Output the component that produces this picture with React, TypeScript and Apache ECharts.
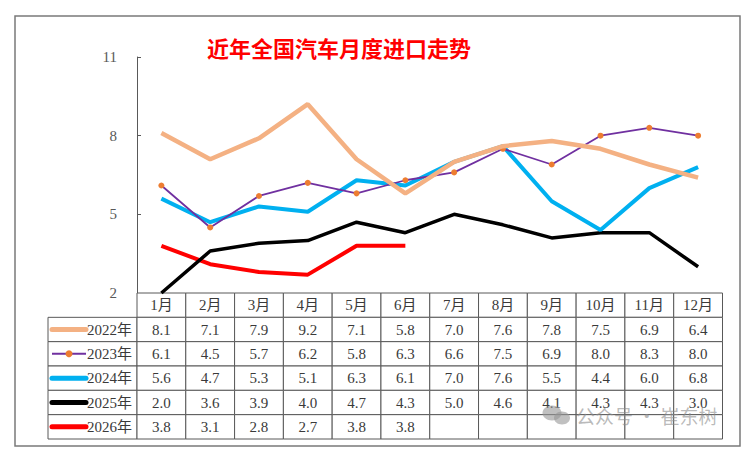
import React, { useEffect, useRef } from "react";
import * as echarts from "echarts";

const months = ["1月", "2月", "3月", "4月", "5月", "6月", "7月", "8月", "9月", "10月", "11月", "12月"];
const yearNames = ["2022年", "2023年", "2024年", "2025年", "2026年"];
const v2022 = [8.1, 7.1, 7.9, 9.2, 7.1, 5.8, 7.0, 7.6, 7.8, 7.5, 6.9, 6.4];
const v2023 = [6.1, 4.5, 5.7, 6.2, 5.8, 6.3, 6.6, 7.5, 6.9, 8.0, 8.3, 8.0];
const v2024 = [5.6, 4.7, 5.3, 5.1, 6.3, 6.1, 7.0, 7.6, 5.5, 4.4, 6.0, 6.8];
const v2025 = [2.0, 3.6, 3.9, 4.0, 4.7, 4.3, 5.0, 4.6, 4.1, 4.3, 4.3, 3.0];
const v2026 = [3.8, 3.1, 2.8, 2.7, 3.8, 3.8];
const yMin = 2;
const yMax = 11;
const yStep = 3;
const titleText = "近年全国汽车月度进口走势";
const watermark = "公众号 · 崔东树";

const allValues = [v2022, v2023, v2024, v2025, v2026];
const lineColors = ["#F4B183", "#7030A0", "#00B0F0", "#000000", "#FF0000"];
const lineWidths = [4.5, 1.8, 4, 3.5, 4];
const markerColor = "#ED7D31";

const SERIF = '"Liberation Serif", "Times New Roman", "Noto Sans CJK SC", serif';
const LEGEND_W = 89;
const BORDER = "#595959";
const TXT = "#3a3a3a";

type Cell = { kind: "head" | "val" | "legend"; text: string; s: number };
const cells: Cell[] = [];
const cellData: number[][] = [];
months.forEach((m, c) => {
  cells.push({ kind: "head", text: m, s: -1 });
  cellData.push([c, 0]);
});
allValues.forEach((vals, r) => {
  cells.push({ kind: "legend", text: yearNames[r], s: r });
  cellData.push([0, r + 1]);
  months.forEach((_, c) => {
    const v = vals[c];
    cells.push({ kind: "val", text: v === undefined ? "" : v.toFixed(1), s: r });
    cellData.push([c, r + 1]);
  });
});

export default function App() {
  const ref = useRef<HTMLDivElement>(null);
  useEffect(() => {
    if (!ref.current) return;
    const chart = echarts.init(ref.current, null, { renderer: "svg" });
    const lineSeries = allValues.map((vals, i) => ({
      type: "line",
      name: yearNames[i],
      xAxisIndex: 0,
      yAxisIndex: 0,
      data: vals,
      showSymbol: i === 1,
      symbol: "circle",
      symbolSize: 6,
      itemStyle: { color: i === 1 ? markerColor : lineColors[i] },
      lineStyle: { color: lineColors[i], width: lineWidths[i] },
      z: 10 - i,
      silent: true,
    }));
    const option: any = {
      animation: false,
      backgroundColor: "#ffffff",
      grid: [
        { left: 137, top: 57, width: 585.5, height: 236 },
        { left: 137, top: 293, width: 585.5, height: 146 },
      ],
      xAxis: [
        { type: "category", gridIndex: 0, data: months, boundaryGap: true, show: false },
        { type: "category", gridIndex: 1, data: months, boundaryGap: true, show: false },
      ],
      yAxis: [
        {
          type: "value",
          gridIndex: 0,
          min: yMin,
          max: yMax,
          interval: yStep,
          axisLine: { show: true, lineStyle: { color: BORDER, width: 1 } },
          axisTick: { show: true, inside: true, length: 4, lineStyle: { color: BORDER } },
          splitLine: { show: false },
          axisLabel: { fontFamily: SERIF, fontSize: 15, color: "#595959", margin: 20 },
        },
        {
          type: "category",
          gridIndex: 1,
          inverse: true,
          data: ["", ...yearNames],
          show: false,
        },
      ],
      series: [
        ...lineSeries,
        {
          type: "custom",
          xAxisIndex: 1,
          yAxisIndex: 1,
          data: cellData,
          silent: true,
          z: 2,
          renderItem: (params: any, api: any) => {
            const cell = cells[params.dataIndex];
            const pt = api.coord([api.value(0), api.value(1)]);
            const sz = api.size([1, 1]);
            let w = sz[0];
            const h = sz[1];
            let x = pt[0] - w / 2;
            const y = pt[1] - h / 2;
            const children: any[] = [];
            if (cell.kind === "legend") {
              x = x - LEGEND_W;
              w = LEGEND_W;
              children.push({
                type: "rect",
                shape: { x, y, width: w, height: h },
                style: { fill: "#fff", stroke: BORDER, lineWidth: 1 },
              });
              const cy = y + h / 2;
              children.push({
                type: "line",
                shape: { x1: x + 4, y1: cy, x2: x + 38, y2: cy },
                style: {
                  stroke: lineColors[cell.s],
                  lineWidth: cell.s === 1 ? 2 : 5,
                  lineCap: cell.s === 1 ? "butt" : "round",
                },
              });
              if (cell.s === 1) {
                children.push({
                  type: "circle",
                  shape: { cx: x + 21, cy, r: 3.5 },
                  style: { fill: markerColor },
                });
              }
              children.push({
                type: "text",
                style: {
                  x: x + 39,
                  y: cy,
                  text: cell.text,
                  fontFamily: SERIF,
                  fontSize: 15,
                  fill: TXT,
                  align: "left",
                  textAlign: "left",
                  verticalAlign: "middle",
                  textVerticalAlign: "middle",
                },
              });
            } else {
              children.push({
                type: "rect",
                shape: { x, y, width: w, height: h },
                style: { fill: "#fff", stroke: BORDER, lineWidth: 1 },
              });
              children.push({
                type: "text",
                style: {
                  x: x + w / 2,
                  y: y + h / 2,
                  text: cell.text,
                  fontFamily: SERIF,
                  fontSize: 15,
                  fill: TXT,
                  align: "center",
                  textAlign: "center",
                  verticalAlign: "middle",
                  textVerticalAlign: "middle",
                },
              });
            }
            return { type: "group", children };
          },
        },
      ],
      graphic: [
        {
          type: "rect",
          shape: { x: 15, y: 16, width: 725, height: 430 },
          style: { fill: "none", stroke: "#7a7a7a", lineWidth: 1.5 },
          z: 100,
          silent: true,
        },
        {
          type: "text",
          left: 207,
          top: 36,
          style: {
            text: titleText,
            fontFamily: '"Noto Sans CJK SC", sans-serif',
            fontSize: 22,
            fontWeight: "bold",
            fill: "#FF0000",
          },
          z: 100,
        },
        {
          type: "ellipse",
          shape: { cx: 552, cy: 413, rx: 9.5, ry: 7.5 },
          style: { fill: "rgba(150,150,150,0.6)" },
          z: 200,
          silent: true,
        },
        {
          type: "ellipse",
          shape: { cx: 562, cy: 418, rx: 8, ry: 6.5 },
          style: { fill: "rgba(150,150,150,0.6)" },
          z: 200,
          silent: true,
        },
        {
          type: "text",
          x: 576,
          y: 406,
          style: {
            text: watermark,
            fontFamily: '"Noto Sans CJK SC", sans-serif',
            fontSize: 19,
            fill: "rgba(140,140,140,0.6)",
          },
          z: 200,
          silent: true,
        },
      ],
    };
    chart.setOption(option);
    return () => chart.dispose();
  }, []);
  return (
    <div
      ref={ref}
      style={{ position: "fixed", left: 0, top: 0, width: 750, height: 458, background: "#fff" }}
    />
  );
}
